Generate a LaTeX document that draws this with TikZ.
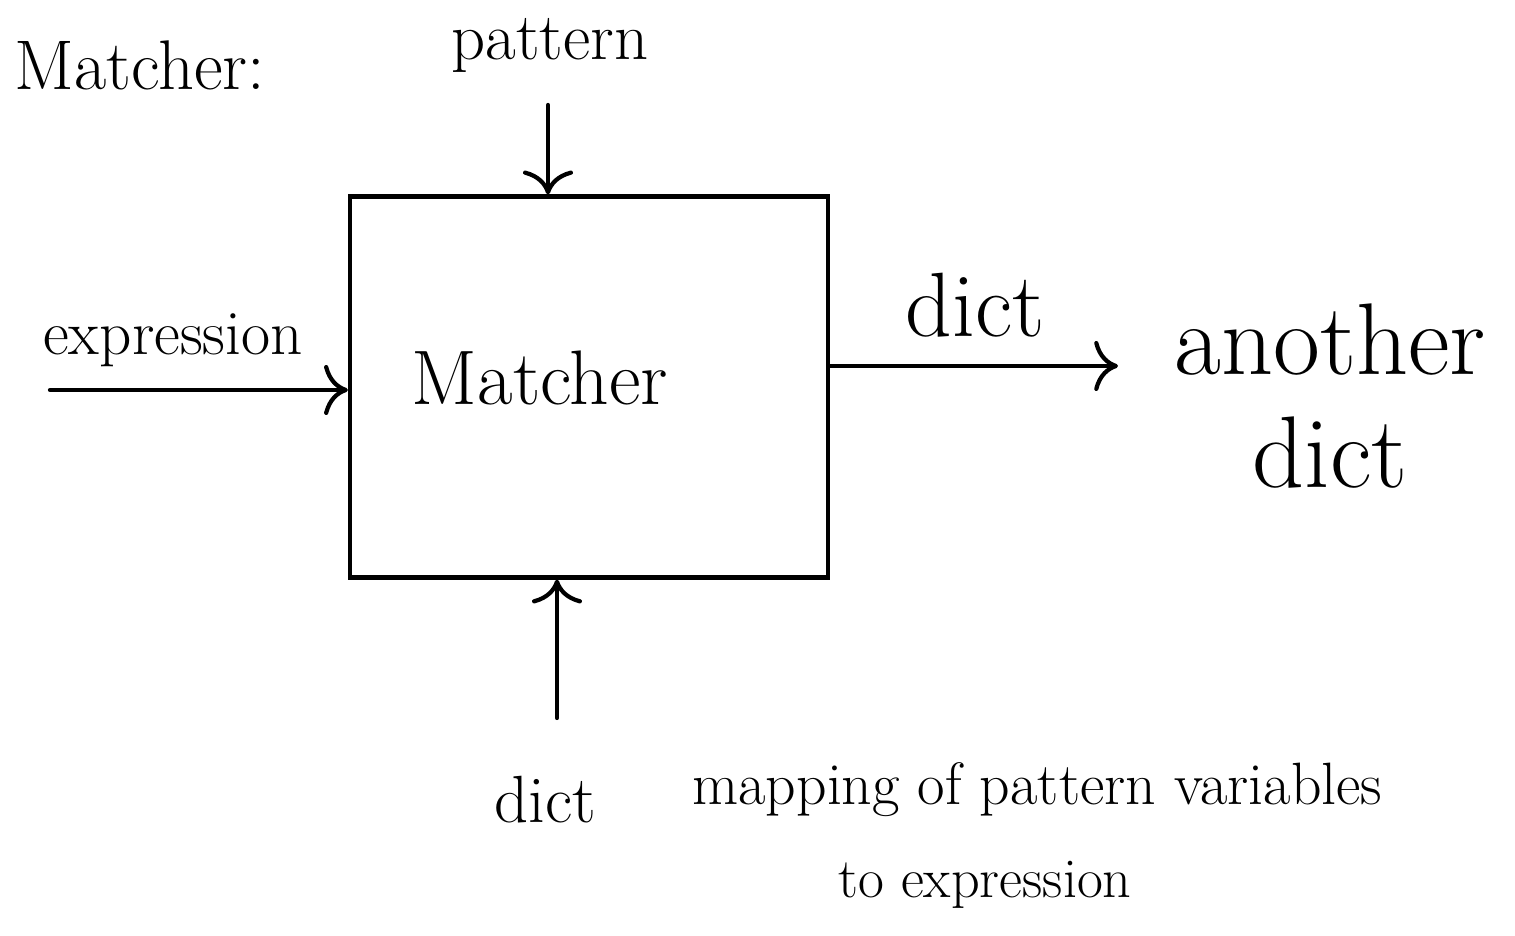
\documentclass[tikz,border=0pt]{standalone}
\usetikzlibrary{arrows.meta}
\tikzset{
  hand/.style={line width=1.2pt, line cap=round},
  flow/.style={hand, -{To[scale=1.6]}},
  lbl/.style={font=\fontsize{19}{23}\selectfont},
  small/.style={font=\fontsize{17}{20}\selectfont},
  big/.style={font=\fontsize{24}{28}\selectfont}
}
\begin{document}
\begin{tikzpicture}
\useasboundingbox (0,0) rectangle (15.15,9.36);
 \node[big, font=\fontsize{20}{24}\selectfont] (title) at (1.40,8.71) {Matcher:};
 \node[hand, draw, minimum width=4.78cm, minimum height=3.81cm] (box) at (5.89,5.49) {};
 \node[big, font=\fontsize{22}{26}\selectfont] (name) at (5.40,5.58) {Matcher};
 % inputs
 \node[lbl] (pat) at (5.50,8.91) {pattern};
 \coordinate (pin) at (5.48,8.31);
 \draw[flow] (pin) -- (pin |- box.north);
 \node[lbl, font=\fontsize{18}{22}\selectfont] (expr) at (1.73,5.96) {expression};
 \coordinate (ein) at (0.50,5.46);
 \draw[flow] (ein) -- (ein -| box.west);
 \node[lbl] (din) at (5.45,1.36) {dict};
 \coordinate (dstart) at (5.57,2.18);
 \draw[flow] (dstart) -- (dstart |- box.south);
 \node[small, anchor=west] (map) at (6.80,1.46) {mapping of pattern variables};
 \node[small, font=\fontsize{16}{19}\selectfont] (map2) at (9.85,0.51) {to expression};
 % output
 \node[lbl, font=\fontsize{26}{30}\selectfont] (dout) at (9.75,6.31) {dict};
 \coordinate (dend) at (11.18,5.70);
 \draw[flow] (dend -| box.east) -- (dend);
 \node[big, font=\fontsize{29}{32}\selectfont, align=center] (res) at (13.30,5.40) {another\\dict};
\end{tikzpicture}
\end{document}
